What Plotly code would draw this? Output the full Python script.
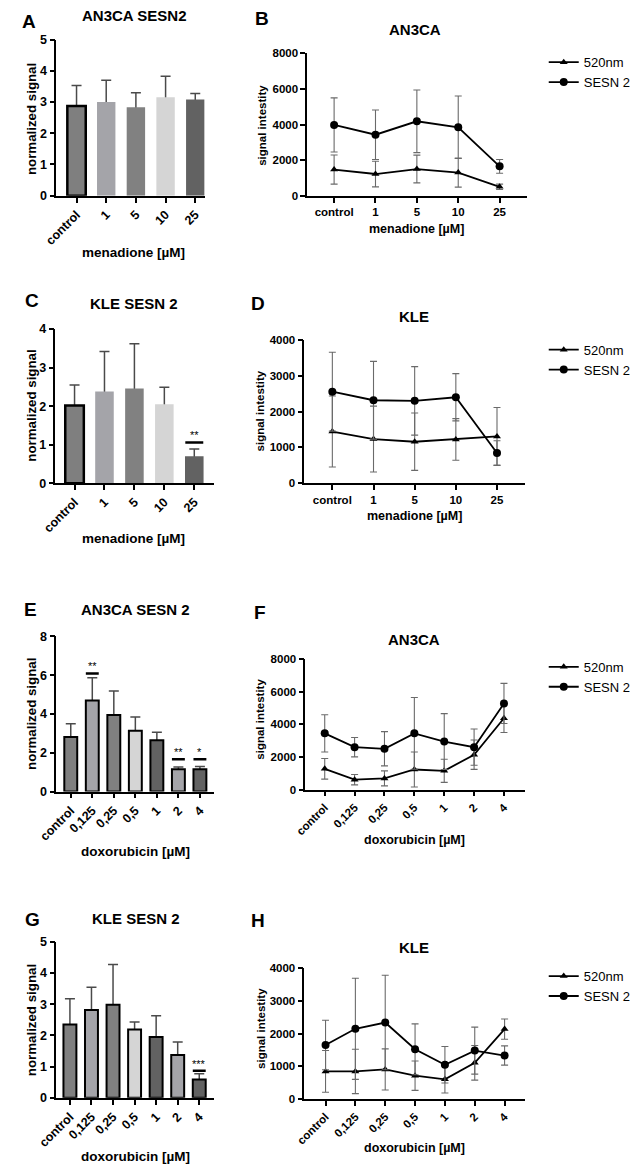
import plotly.graph_objects as go

W, H = 636, 1172
FONT = "Liberation Sans, Arial, sans-serif"

# ---------------- data ----------------
menadione_cats = ["control", "1", "5", "10", "25"]
doxo_cats = ["control", "0,125", "0,25", "0,5", "1", "2", "4"]

# A: AN3CA SESN2 (menadione), normalized signal
A_mean = [2.87, 3.00, 2.83, 3.15, 3.08]
A_sd = [0.66, 0.70, 0.47, 0.68, 0.19]
# C: KLE SESN 2 (menadione)
C_mean = [2.02, 2.38, 2.46, 2.05, 0.70]
C_sd = [0.53, 1.04, 1.16, 0.44, 0.19]
C_sig = {"25": "**"}
C_sig_level = [1.06]
# E: AN3CA SESN 2 (doxorubicin)
E_mean = [2.81, 4.70, 3.95, 3.13, 2.64, 1.15, 1.15]
E_sd = [0.68, 1.17, 1.23, 0.71, 0.41, 0.12, 0.14]
E_sig = {"0,125": "**", "2": "**", "4": "*"}
E_sig_level = [6.09, 1.66, 1.66]
# G: KLE SESN 2 (doxorubicin)
G_mean = [2.35, 2.81, 2.98, 2.19, 1.95, 1.37, 0.59]
G_sd = [0.82, 0.73, 1.29, 0.24, 0.68, 0.42, 0.18]
G_sig = {"4": "***"}
G_sig_level = [0.87]

# B: AN3CA signal intensity (menadione)
B_520 = [1470, 1220, 1500, 1300, 500]
B_520_sd = [820, 720, 780, 815, 150]
B_sesn = [3980, 3430, 4185, 3850, 1650]
B_sesn_sd = [1520, 1390, 1760, 1760, 390]
# D: KLE signal intensity (menadione)
D_520 = [1444, 1232, 1159, 1223, 1306]
D_520_sd = [990, 920, 800, 580, 810]
D_sesn = [2556, 2317, 2300, 2400, 846]
D_sesn_sd = [1100, 1085, 956, 660, 340]
# F: AN3CA signal intensity (doxorubicin)
F_520 = [1270, 605, 685, 1230, 1149, 2137, 4375]
F_520_sd = [630, 320, 460, 1070, 710, 900, 880]
F_sesn = [3447, 2600, 2500, 3447, 2943, 2600, 5282]
F_sesn_sd = [1140, 595, 1050, 2200, 1714, 1110, 1230]
# H: KLE signal intensity (doxorubicin)
H_520 = [840, 840, 901, 709, 597, 1104, 2137]
H_520_sd = [640, 680, 630, 450, 420, 530, 310]
H_sesn = [1650, 2147, 2339, 1519, 1043, 1478, 1327]
H_sesn_sd = [760, 1550, 1450, 780, 560, 720, 295]

series_names = ["520nm", "SESN 2"]

# ---------------- styles ----------------
menadione_colors = ["#7f7f7f", "#a4a4a9", "#818181", "#d5d5d5", "#626262"]
menadione_lw = [2.5, 0, 0, 0, 0]
doxo_colors = ["#808080", "#a4a4a9", "#808080", "#d5d5d5", "#626262", "#a4a4a9", "#626262"]
doxo_lw = [2, 2, 2, 2, 2, 2, 2]


def px(x):
    return x / W


def py(y):
    return 1 - y / H


fig = go.Figure()
annotations = []
shapes = []
layout_axes = {}


def bold(size, color="black"):
    return dict(family=FONT, size=size, color=color, weight="bold")


def add_axes(i, xpix, ypix, xr, yr, dtick, cats, angle, fsize):
    xname = "xaxis" if i == 1 else f"xaxis{i}"
    yname = "yaxis" if i == 1 else f"yaxis{i}"
    common = dict(showline=True, linecolor="black", linewidth=1.6, ticks="outside",
                  ticklen=5, tickwidth=1.5, tickcolor="black", showgrid=False,
                  zeroline=False, fixedrange=True, tickfont=bold(fsize))
    layout_axes[xname] = dict(domain=[px(xpix[0]), px(xpix[1])], range=list(xr),
                              tickvals=list(range(len(cats))), ticktext=cats,
                              tickangle=angle, anchor="y" if i == 1 else f"y{i}", **common)
    layout_axes[yname] = dict(domain=[py(ypix[1]), py(ypix[0])], range=list(yr),
                              dtick=dtick, tick0=0, anchor="x" if i == 1 else f"x{i}", **common)


def refs(i):
    return ("x", "y") if i == 1 else (f"x{i}", f"y{i}")


def bar_panel(i, cats, mean, sd, colors, lws, width):
    xr_, yr_ = refs(i)
    xs = list(range(len(cats)))
    # error bars (lower half hidden by bars drawn on top)
    fig.add_trace(go.Bar(x=xs, y=mean, width=width, marker=dict(color="rgba(0,0,0,0)", line=dict(width=0)),
                         error_y=dict(type="data", array=sd, symmetric=True, color="#4a4a4a",
                                      thickness=1.5, width=5),
                         xaxis=xr_, yaxis=yr_, showlegend=False, hoverinfo="skip"))
    fig.add_trace(go.Bar(x=xs, y=mean, width=width,
                         marker=dict(color=colors, line=dict(color="black", width=lws)),
                         xaxis=xr_, yaxis=yr_, showlegend=False))


def sig_marks(i, cats, sig, levels, star_offset):
    xr_, yr_ = refs(i)
    for (cat, stars), lvl in zip(sig.items(), levels):
        k = cats.index(cat)
        shapes.append(dict(type="line", xref=xr_, yref=yr_, x0=k - 0.3, x1=k + 0.3,
                           y0=lvl, y1=lvl, line=dict(color="black", width=2.5)))
        annotations.append(dict(xref=xr_, yref=yr_, x=k, y=lvl + star_offset, text=stars,
                                showarrow=False, font=dict(family=FONT, size=11, color="black"),
                                yanchor="middle"))


def line_panel(i, cats, s520, s520sd, sesn, sesnsd, legend):
    xr_, yr_ = refs(i)
    xs = list(range(len(cats)))
    for name, vals, err, sym in [(series_names[0], s520, s520sd, "triangle-up"),
                                 (series_names[1], sesn, sesnsd, "circle")]:
        fig.add_trace(go.Scatter(x=xs, y=vals, name=name, mode="lines+markers",
                                 line=dict(color="black", width=1.8),
                                 marker=dict(symbol=sym, size=8 if sym == "circle" else 7, color="black"),
                                 error_y=dict(type="data", array=err, symmetric=True, color="#6a6a6a",
                                              thickness=1.1, width=3.5),
                                 xaxis=xr_, yaxis=yr_, legend=legend))


def text(x, y, s, size, boldf=True, angle=0, xanchor="center"):
    f = bold(size) if boldf else dict(family=FONT, size=size, color="black")
    annotations.append(dict(xref="paper", yref="paper", x=px(x), y=py(y), text=s,
                            showarrow=False, font=f, textangle=angle, xanchor=xanchor,
                            yanchor="middle"))


# ---- Panel A ----
add_axes(1, (39, 194), (33, 191), (-0.68, 4.32), (0, 5), 1, menadione_cats, -45, 12.5)
bar_panel(1, menadione_cats, A_mean, A_sd, menadione_colors, menadione_lw, 0.62)
# ---- Panel B ----
add_axes(2, (301, 530), (47, 191), (-0.65, 4.65), (0, 8000), 2000, menadione_cats, 0, 11.5)
line_panel(2, menadione_cats, B_520, B_520_sd, B_sesn, B_sesn_sd, "legend")
# ---- Panel C ----
add_axes(3, (38, 204), (326, 482), (-0.64, 4.67), (0, 4), 1, menadione_cats, -45, 12.5)
bar_panel(3, menadione_cats, C_mean, C_sd, menadione_colors, menadione_lw, 0.62)
sig_marks(3, menadione_cats, C_sig, C_sig_level, 0.2)
# ---- Panel D ----
add_axes(4, (298, 528), (337, 482), (-0.68, 4.67), (0, 4000), 1000, menadione_cats, 0, 11.5)
line_panel(4, menadione_cats, D_520, D_520_sd, D_sesn, D_sesn_sd, "legend2")
# ---- Panel E ----
add_axes(5, (39, 204), (637, 794), (-0.67, 6.67), (0, 8), 2, doxo_cats, -45, 12.5)
bar_panel(5, doxo_cats, E_mean, E_sd, doxo_colors, doxo_lw, 0.6)
sig_marks(5, doxo_cats, E_sig, E_sig_level, 0.38)
# ---- Panel F ----
add_axes(6, (299, 528), (660, 792), (-0.65, 6.69), (0, 8000), 2000, doxo_cats, -45, 11.5)
line_panel(6, doxo_cats, F_520, F_520_sd, F_sesn, F_sesn_sd, "legend3")
# ---- Panel G ----
add_axes(7, (39, 204), (946, 1104), (-0.63, 6.7), (0, 5), 1, doxo_cats, -45, 12.5)
bar_panel(7, doxo_cats, G_mean, G_sd, doxo_colors, doxo_lw, 0.6)
sig_marks(7, doxo_cats, G_sig, G_sig_level, 0.22)
# ---- Panel H ----
add_axes(8, (298, 528), (973, 1105), (-0.71, 6.67), (0, 4000), 1000, doxo_cats, -45, 11.5)
line_panel(8, doxo_cats, H_520, H_520_sd, H_sesn, H_sesn_sd, "legend4")

# ---- panel letters ----
for letter, (x, y) in {"A": (10, 15), "B": (254, 12), "C": (14, 297), "D": (250, 300),
                       "E": (12, 610), "F": (252, 613), "G": (14, 924), "H": (250, 925)}.items():
    text(x, y, letter, 19)

# ---- panel titles ----
for s, (x, y) in [("AN3CA SESN2", (120, 9)), ("AN3CA", (414, 23)), ("KLE SESN 2", (120, 300)),
                  ("KLE", (413, 313)), ("AN3CA SESN 2", (122, 610)), ("AN3CA", (413, 640)),
                  ("KLE SESN 2", (122, 923)), ("KLE", (413, 952))]:
    text(x, y, s, 15)

# ---- x axis titles ----
for s, (x, y), fs in [("menadione [µM]", (120, 248), 13.5), ("menadione [µM]", (415, 225), 12.5),
                      ("menadione [µM]", (120, 538), 13.5), ("menadione [µM]", (413, 515), 12.5),
                      ("doxorubicin [µM]", (122, 855), 13.5), ("doxorubicin [µM]", (413, 843), 12.5),
                      ("doxorubicin [µM]", (122, 1163), 13.5), ("doxorubicin [µM]", (413, 1155), 12.5)]:
    text(x, y, s, fs)

# ---- y axis titles ----
for s, (x, y), fs in [("normalized signal", (13, 113), 13.3), ("signal intestity", (253, 120), 11.5),
                      ("normalized signal", (13, 403), 13.3), ("signal intestity", (252, 409), 11.5),
                      ("normalized signal", (13, 715), 13.3), ("signal intestity", (252, 721), 11.5),
                      ("normalized signal", (13, 1025), 13.3), ("signal intestity", (252, 1034), 11.5)]:
    text(x, y, s, fs, angle=-90)

legend_style = dict(x=px(548), xanchor="left", yanchor="middle", bgcolor="rgba(0,0,0,0)",
                    font=dict(family=FONT, size=13, color="black"), tracegroupgap=0,
                    borderwidth=0)

fig.update_layout(
    width=W, height=H, margin=dict(l=0, r=0, t=0, b=0),
    paper_bgcolor="white", plot_bgcolor="white",
    barmode="overlay", showlegend=True,
    legend=dict(y=py(66), **legend_style),
    legend2=dict(y=py(357), **legend_style),
    legend3=dict(y=py(678), **legend_style),
    legend4=dict(y=py(991), **legend_style),
    annotations=annotations, shapes=shapes,
    **layout_axes,
)

fig.write_html("out.html")
